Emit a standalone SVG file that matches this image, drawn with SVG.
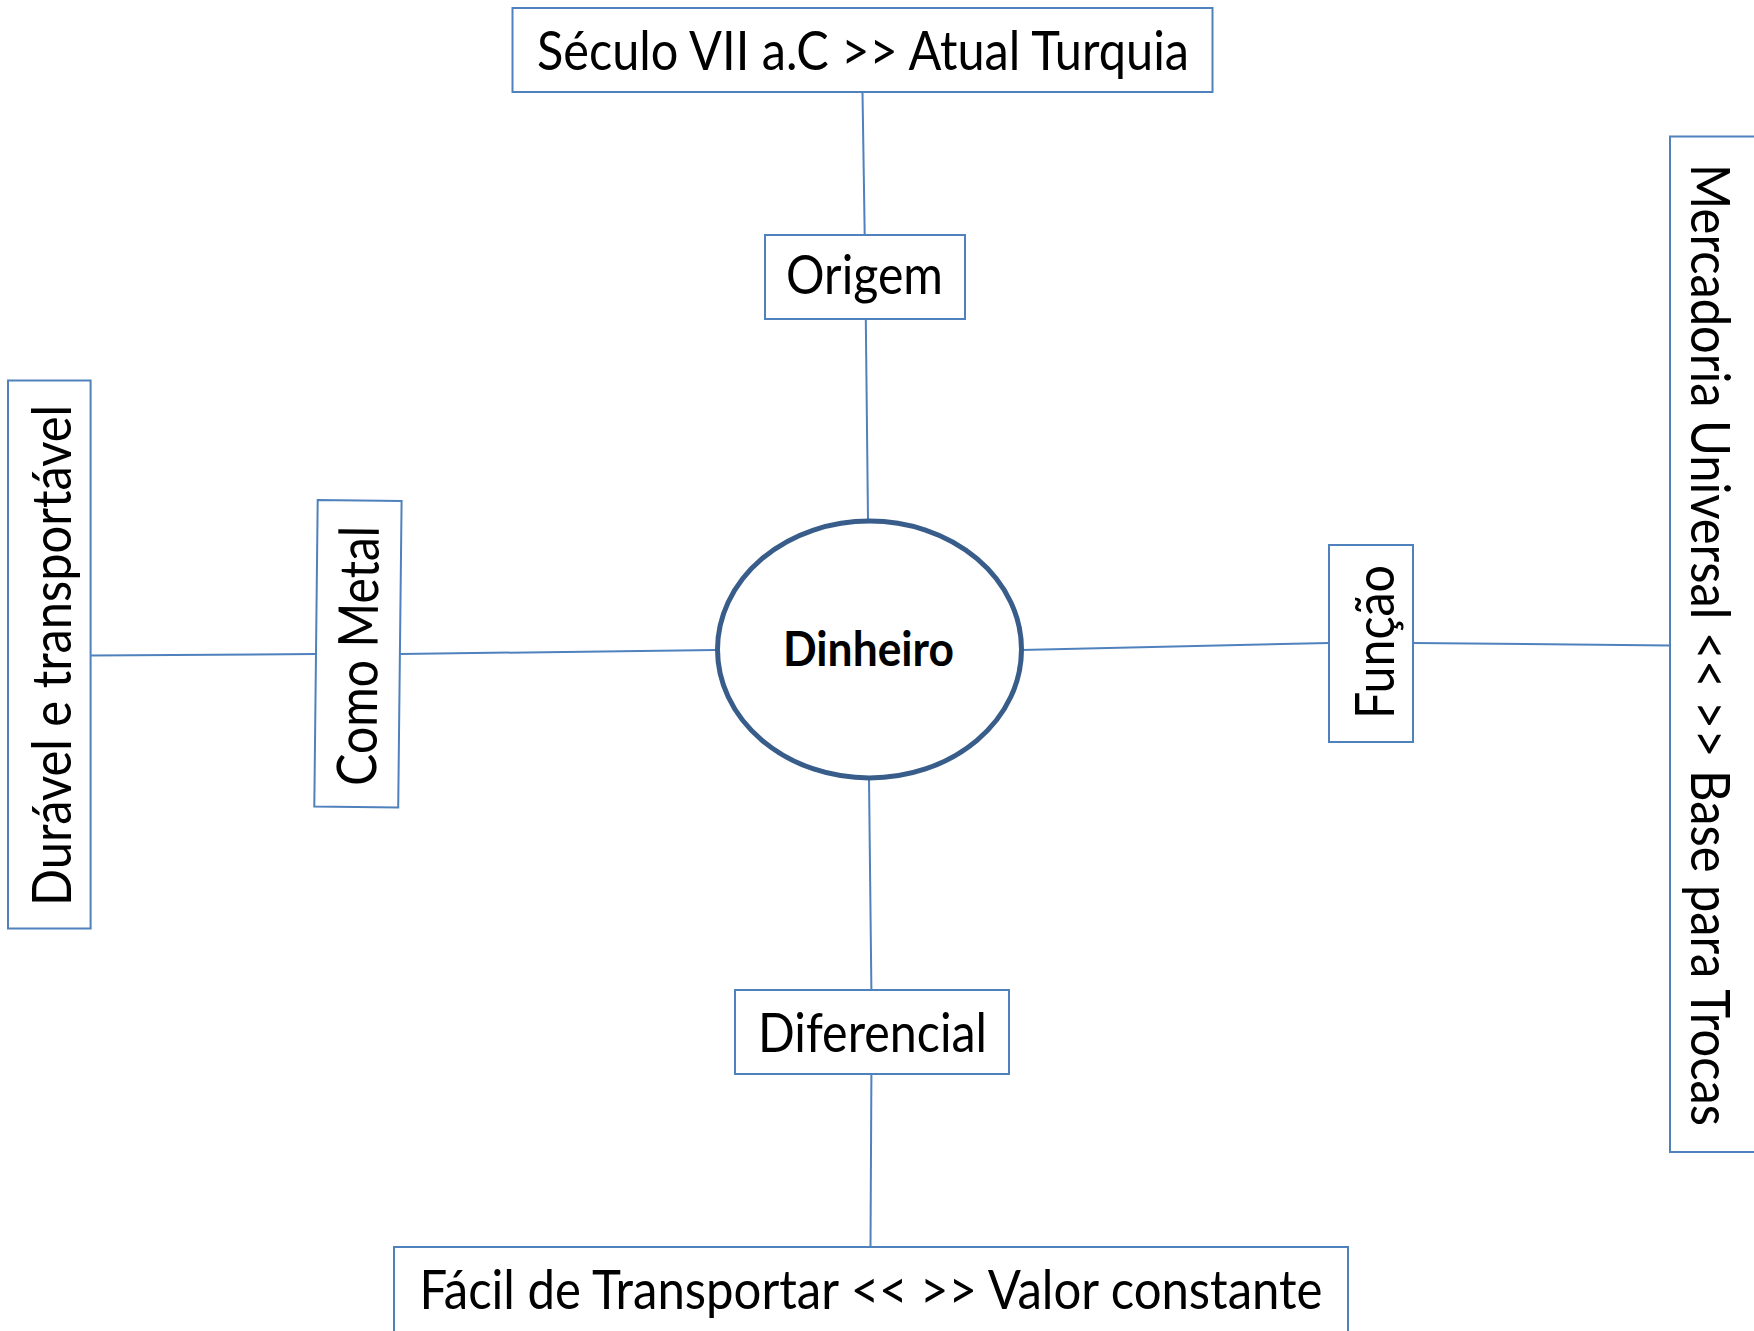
<svg xmlns="http://www.w3.org/2000/svg" width="1754" height="1331" viewBox="0 0 1754 1331">
<style>
.box{fill:#ffffff;stroke:#4F81BD;stroke-width:2}
.con{stroke:#4F81BD;stroke-width:2;fill:none}
.lbl{font-family:Lato,"Open Sans","Liberation Sans",sans-serif;font-size:55px;fill:#000000;text-anchor:middle}
.bold{font-weight:bold;font-size:48px}
</style>
<rect width="1754" height="1331" fill="#ffffff"/>
<g id="connectors">
<line class="con" x1="862.5" y1="92" x2="864.7" y2="235"/>
<line class="con" x1="865.8" y1="319" x2="868" y2="521"/>
<line class="con" x1="869" y1="779" x2="871.4" y2="990"/>
<line class="con" x1="871.4" y1="1074" x2="870.5" y2="1247"/>
<line class="con" x1="716" y1="650" x2="400.5" y2="654"/>
<line class="con" x1="316" y1="654" x2="90.6" y2="655.5"/>
<line class="con" x1="1021" y1="650" x2="1329" y2="643"/>
<line class="con" x1="1413" y1="643" x2="1670" y2="645.4"/>
</g>
<g id="node-top">
<rect class="box" x="512.5" y="8" width="700" height="84"/>
<text class="lbl" x="863" y="69.5" textLength="652" lengthAdjust="spacingAndGlyphs">Século VII a.C &gt;&gt; Atual Turquia</text>
</g>
<g id="node-origem">
<rect class="box" x="765" y="235" width="200" height="84"/>
<text class="lbl" x="864.5" y="294" textLength="157" lengthAdjust="spacingAndGlyphs">Origem</text>
</g>
<g id="node-dinheiro">
<ellipse cx="869.5" cy="649.5" rx="152" ry="128.5" fill="#ffffff" stroke="#385D8A" stroke-width="5"/>
<text class="lbl bold" x="868.5" y="665.5" textLength="171" lengthAdjust="spacingAndGlyphs">Dinheiro</text>
</g>
<g id="node-diferencial">
<rect class="box" x="735" y="990" width="274" height="84"/>
<text class="lbl" x="872.5" y="1051.5" textLength="229" lengthAdjust="spacingAndGlyphs">Diferencial</text>
</g>
<g id="node-bottom">
<rect class="box" x="394" y="1247" width="954" height="90"/>
<text class="lbl" x="871" y="1309" textLength="903" lengthAdjust="spacingAndGlyphs">Fácil de Transportar &lt;&lt; &gt;&gt; Valor constante</text>
</g>
<g id="node-comometal">
<polygon class="box" points="317.7,500 401.6,501 398.2,807.6 314.3,806.5"/>
<text class="lbl" transform="translate(377.5,656) rotate(-89.35)" x="0" y="0" textLength="260" lengthAdjust="spacingAndGlyphs">Como Metal</text>
</g>
<g id="node-duravel">
<rect class="box" x="8" y="380.5" width="82.6" height="548"/>
<text class="lbl" transform="translate(70.5,655.5) rotate(-90)" x="0" y="0" textLength="501" lengthAdjust="spacingAndGlyphs">Durável e transportável</text>
</g>
<g id="node-funcao">
<rect class="box" x="1329" y="545" width="84" height="197"/>
<text class="lbl" transform="translate(1393.5,642) rotate(-90)" x="0" y="0" textLength="154" lengthAdjust="spacingAndGlyphs">Função</text>
</g>
<g id="node-mercadoria">
<rect class="box" x="1670" y="136.5" width="90" height="1015.5"/>
<text class="lbl" transform="translate(1691,645) rotate(90)" x="0" y="0" textLength="962" lengthAdjust="spacingAndGlyphs">Mercadoria Universal &lt;&lt; &gt;&gt; Base para Trocas</text>
</g>
</svg>
